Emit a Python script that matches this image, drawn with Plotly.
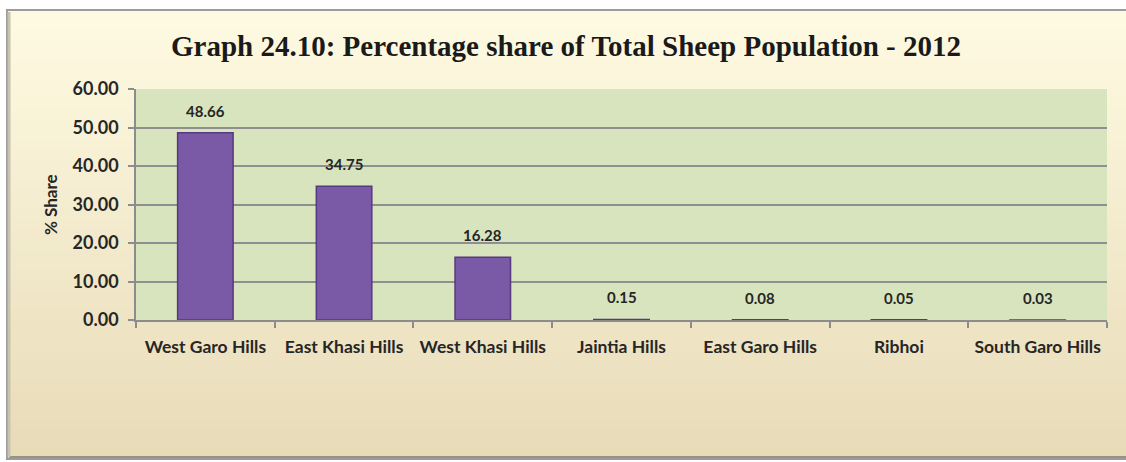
import plotly.graph_objects as go

categories = ["West Garo Hills", "East Khasi Hills", "West Khasi Hills", "Jaintia Hills",
              "East Garo Hills", "Ribhoi", "South Garo Hills"]
share = [48.66, 34.75, 16.28, 0.15, 0.08, 0.05, 0.03]
y_ticks = [0, 10, 20, 30, 40, 50, 60]
y_ticktext = ["0.00", "10.00", "20.00", "30.00", "40.00", "50.00", "60.00"]

W, H = 1126, 462
ML, MR, MT, MB = 136, 19, 89, 142
PW, PH = W - ML - MR, H - MT - MB


def xp(px):
    return (px - ML) / PW


def yp(py):
    return (H - MB - py) / PH


def lerp(c1, c2, t):
    return "rgb(%d,%d,%d)" % tuple(round(a + (b - a) * t) for a, b in zip(c1, c2))


fig = go.Figure()
fig.add_trace(go.Bar(
    x=categories, y=share, width=0.4,
    marker=dict(color="#7a5aa6", line=dict(color="#57397f", width=1.5)),
    hoverinfo="skip",
))

shapes = []
top_c, bot_c = (254, 250, 226), (232, 219, 184)
fx0, fx1, fy0, fy1 = 7, 1130, 10, 459
n = 45
for i in range(n):
    a = fy0 + (fy1 - fy0) * i / n
    b = fy0 + (fy1 - fy0) * (i + 1) / n + 0.6
    shapes.append(dict(type="rect", xref="paper", yref="paper", layer="below",
                       x0=xp(fx0), x1=xp(fx1), y0=yp(a), y1=yp(b),
                       fillcolor=lerp(top_c, bot_c, i / (n - 1)), line=dict(width=0)))
shapes.append(dict(type="rect", xref="paper", yref="paper", layer="below",
                   x0=xp(fx0), x1=xp(fx1), y0=yp(fy0), y1=yp(fy1),
                   fillcolor="rgba(0,0,0,0)", line=dict(color="#9c9c9c", width=2)))
shapes.append(dict(type="line", xref="paper", yref="paper", layer="below",
                   x0=xp(fx0 + 2), x1=xp(fx1), y0=yp(fy1 - 2), y1=yp(fy1 - 2),
                   line=dict(color="#9a9080", width=2)))
shapes.append(dict(type="line", xref="paper", yref="paper", layer="below",
                   x0=xp(fx0 + 2), x1=xp(fx0 + 2), y0=yp(fy0 + 2), y1=yp(fy1 - 2),
                   line=dict(color="#c8c2b0", width=3)))
shapes.append(dict(type="rect", xref="paper", yref="paper", layer="below",
                   x0=0, x1=1, y0=0, y1=1, fillcolor="#d8e4bd", line=dict(width=0)))

annotations = []
for c, v in zip(categories, share):
    annotations.append(dict(x=c, y=v, xref="x", yref="y", text="%.2f" % v,
                            showarrow=False, yanchor="bottom", yshift=11,
                            font=dict(family="Lato", size=15, color="#262626", weight="bold")))
annotations.append(dict(x=xp(50), y=yp(205), xref="paper", yref="paper", text="% Share",
                        textangle=-90, showarrow=False, xanchor="center", yanchor="middle",
                        font=dict(family="Lato", size=17, color="#262626", weight="bold")))

fig.update_layout(
    width=W, height=H,
    margin=dict(l=ML, r=MR, t=MT, b=MB, pad=0),
    paper_bgcolor="white", plot_bgcolor="rgba(0,0,0,0)",
    showlegend=False,
    title=dict(text="Graph 24.10: Percentage share of Total Sheep Population - 2012",
               x=566 / W, xref="container", xanchor="center",
               y=1 - 46 / H, yref="container", yanchor="middle",
               font=dict(family="Liberation Serif", size=29, color="#1a1a1a", weight="bold")),
    shapes=shapes, annotations=annotations,
    bargap=0.6,
)
fig.update_xaxes(
    tickson="boundaries", ticks="outside", ticklen=6, tickcolor="#8c8c8c", tickwidth=1.5,
    showline=True, linecolor="#8c8c8c", linewidth=1.5, showgrid=False,
    tickangle=0, automargin=False,
    tickfont=dict(family="Lato", size=17.5, color="#262626", weight="bold"), ticklabelstandoff=10,
)
fig.update_yaxes(
    range=[0, 60], tickvals=y_ticks, ticktext=y_ticktext,
    ticks="outside", ticklen=6, tickcolor="#8c8c8c", tickwidth=1.5,
    showline=True, linecolor="#8c8c8c", linewidth=1.5, automargin=False,
    showgrid=True, gridcolor="#8f8f8f", gridwidth=1.5, zeroline=False,
    tickfont=dict(family="Lato", size=18, color="#262626", weight="bold"), ticklabelstandoff=6,
)

fig.write_html("out.html", config={"displayModeBar": False},
               post_script="document.body.style.margin='0';document.body.style.overflow='hidden';")
